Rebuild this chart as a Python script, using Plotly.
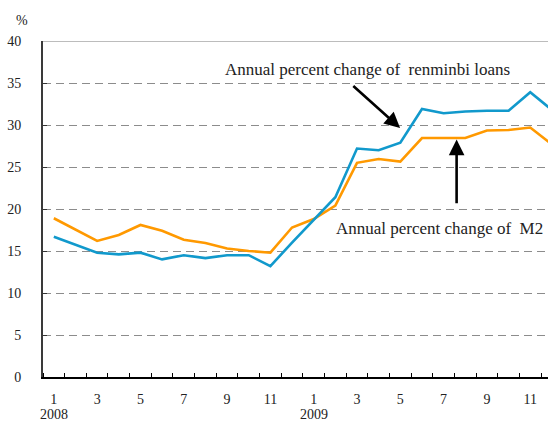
import plotly.graph_objects as go

# Months Jan 2008 .. Dec 2009 (1..24)
months = list(range(1, 25))
m2_growth = [18.9, 17.5, 16.2, 16.9, 18.1, 17.4, 16.35, 15.95, 15.3, 15.0, 14.8, 17.8,
             18.8, 20.4, 25.5, 25.95, 25.65, 28.45, 28.45, 28.45, 29.35, 29.4, 29.7, 27.7]
loan_growth = [16.7, 15.75, 14.8, 14.6, 14.8, 14.0, 14.5, 14.15, 14.5, 14.5, 13.2, 16.0,
               18.7, 21.4, 27.2, 27.0, 27.9, 31.9, 31.4, 31.6, 31.7, 31.7, 33.9, 31.8]
tick_positions = [1, 3, 5, 7, 9, 11, 13, 15, 17, 19, 21, 23]
tick_labels = ["1", "3", "5", "7", "9", "11", "1", "3", "5", "7", "9", "11"]
year_positions = [1, 13]
year_labels = ["2008", "2009"]
y_ticks = [0, 5, 10, 15, 20, 25, 30, 35, 40]

FONT = "Liberation Serif"

fig = go.Figure()
fig.add_trace(go.Scatter(x=months, y=m2_growth, mode="lines",
                         line=dict(color="#FF9900", width=2.6), name="M2"))
fig.add_trace(go.Scatter(x=months, y=loan_growth, mode="lines",
                         line=dict(color="#1199CC", width=2.6), name="Loans"))

fig.update_layout(
    width=548, height=423,
    margin=dict(l=43, r=0, t=41, b=46, autoexpand=False),
    paper_bgcolor="white", plot_bgcolor="white",
    showlegend=False,
    font=dict(family=FONT, size=14, color="#222"),
)

fig.update_xaxes(
    range=[0.5, 23.82],
    tickmode="array", tickvals=tick_positions, ticktext=tick_labels,
    ticks="", showgrid=False,
    showline=True, linecolor="black", linewidth=1.5,
    ticklabelstandoff=8,
    tickfont=dict(family=FONT, size=14, color="#222"),
    minor=dict(tickmode="array", tickvals=[i + 0.5 for i in range(24)],
               ticks="inside", ticklen=4, tickcolor="black", tickwidth=1, showgrid=False),
    zeroline=False,
)
fig.update_yaxes(
    range=[0, 40],
    tickmode="array", tickvals=y_ticks,
    ticks="inside", ticklen=4, tickcolor="#333", tickwidth=1,
    showline=True, linecolor="#3a3a3a", linewidth=2,
    showgrid=True, gridcolor="#8c8c8c", gridwidth=1, griddash="8px,5px",
    zeroline=False,
    ticklabelstandoff=17,
    tickfont=dict(family=FONT, size=14, color="#222"),
)

# top border
fig.add_shape(type="line", xref="paper", yref="y", x0=0, x1=1, y0=40, y1=40,
              line=dict(color="#7a7a7a", width=1.2))

# year labels
for xp, lab in zip(year_positions, year_labels):
    fig.add_annotation(x=xp, y=0, xref="x", yref="y", text=lab, showarrow=False,
                       xanchor="center", yanchor="middle", borderpad=0,
                       yshift=-37, font=dict(family=FONT, size=14, color="#222"))

# % label
fig.add_annotation(x=0, y=1, xref="paper", yref="paper", text="%", showarrow=False,
                   xanchor="center", yanchor="middle",
                   xshift=-21, yshift=21, font=dict(family=FONT, size=14, color="#222"))

# text labels
fig.add_annotation(x=15.47, y=36.58, xref="x", yref="y",
                   text="Annual percent change of \u00a0renminbi loans", showarrow=False,
                   font=dict(family=FONT, size=17, color="#222"))
fig.add_annotation(x=18.79, y=17.62, xref="x", yref="y",
                   text="Annual percent change of \u00a0M2", showarrow=False,
                   font=dict(family=FONT, size=17, color="#222"))

# arrows
fig.add_annotation(x=16.99, y=29.64, ax=14.76, ay=34.8, xref="x", yref="y",
                   axref="x", ayref="y", text="", showarrow=True,
                   arrowhead=2, arrowsize=1.2, arrowwidth=2.6, arrowcolor="black", standoff=0)
fig.add_annotation(x=19.6, y=28.27, ax=19.6, ay=20.5, xref="x", yref="y",
                   axref="x", ayref="y", text="", showarrow=True,
                   arrowhead=2, arrowsize=1.2, arrowwidth=2.6, arrowcolor="black", standoff=0)

fig.write_html("out.html", config={"displayModeBar": False},
               post_script="document.body.style.margin='0';document.body.style.overflow='hidden';")
